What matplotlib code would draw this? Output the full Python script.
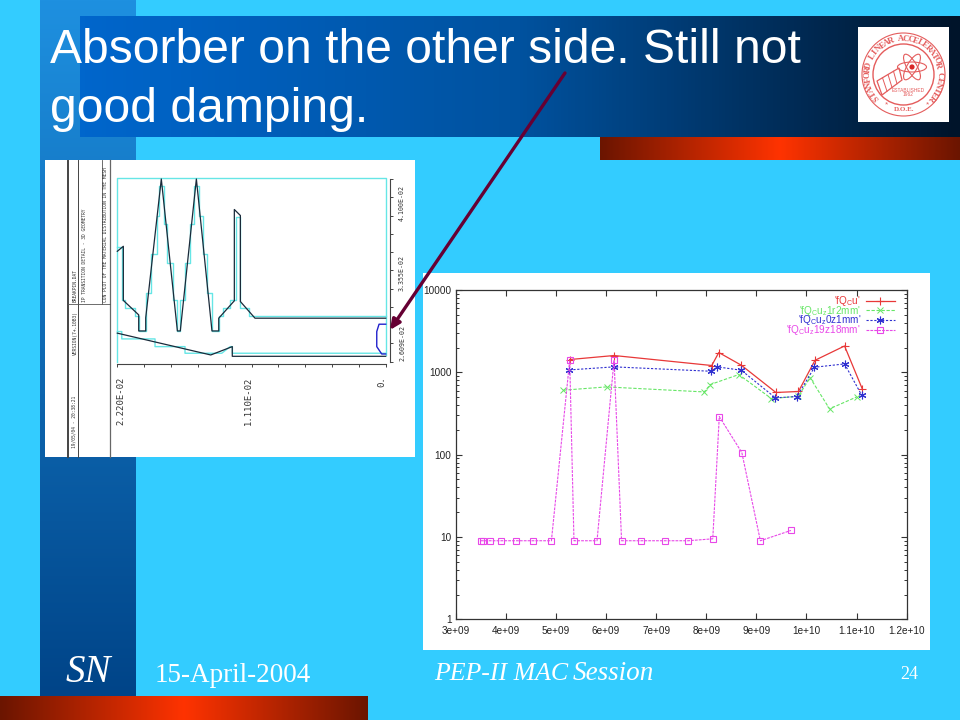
import numpy as np
import matplotlib
matplotlib.use('Agg')
import matplotlib.pyplot as plt
from matplotlib.colors import LinearSegmentedColormap
from matplotlib.patches import Ellipse, Circle, Polygon, Rectangle

plt.rcParams['font.family'] = ['Liberation Sans', 'DejaVu Sans']
plt.rcParams['mathtext.default'] = 'regular'

W, H = 960, 720

# right plot: frequency scan, one list per curve
x_ticks = [3e9, 4e9, 5e9, 6e9, 7e9, 8e9, 9e9, 1e10, 1.1e10, 1.2e10]
x_tick_labels = ['3e+09', '4e+09', '5e+09', '6e+09', '7e+09', '8e+09', '9e+09', '1e+10', '1.1e+10', '1.2e+10']
y_ticks = [1, 10, 100, 1000, 10000]
y_tick_labels = ['1', '10', '100', '1000', '10000']

red_x = [5.275e9, 6.16e9, 8.11e9, 8.25e9, 8.70e9, 9.39e9, 9.84e9, 1.017e10, 1.076e10, 1.111e10]
red_y = [1430, 1600, 1210, 1740, 1220, 569, 585, 1400, 2090, 636]
green_x = [5.15e9, 6.01e9, 7.96e9, 8.08e9, 8.65e9, 9.30e9, 9.84e9, 1.007e10, 1.046e10, 1.10e10]
green_y = [607, 665, 578, 710, 940, 480, 512, 864, 360, 502]
blue_x = [5.27e9, 6.16e9, 8.10e9, 8.22e9, 8.70e9, 9.38e9, 9.81e9, 1.016e10, 1.076e10, 1.110e10]
blue_y = [1070, 1165, 1030, 1165, 1060, 490, 508, 1153, 1265, 530]
mag_x = [3.505e9, 3.55e9, 3.685e9, 3.91e9, 4.21e9, 4.54e9, 4.91e9, 5.275e9, 5.36e9, 5.82e9, 6.16e9,
         6.31e9, 6.70e9, 7.18e9, 7.64e9, 8.13e9, 8.26e9, 8.71e9, 9.08e9, 9.69e9]
mag_y = [9, 9, 9, 9, 9, 9, 9, 1400, 9, 9, 1400, 9, 9, 9, 9, 9.5, 290, 106, 9, 12]

labels = ["'fQ$_C$u'", "'fQ$_C$u$_z$1r2mm'", "'fQ$_C$u$_z$0z1mm'", "'fQ$_C$u$_z$19z18mm'"]

# left plot: geometry outline, units of 1e-2
black_top_x = [2.22, 2.17, 2.17, 2.043, 2.043, 1.985, 1.985, 1.856, 1.723, 1.699, 1.566, 1.437, 1.381,
               1.381, 1.252, 1.252, 1.202, 1.202, 1.081, 0]
black_top_y = [3.51, 3.551, 3.109, 2.991, 2.86, 2.86, 2.967, 4.10, 2.86, 2.86, 4.10, 2.86, 2.86,
               2.964, 3.106, 3.851, 3.802, 3.10, 2.964, 2.964]
black_bot_x = [2.22, 1.447, 1.269, 1.269, 0]
black_bot_y = [2.842, 2.664, 2.732, 2.653, 2.653]
cyan_top_x = [2.219, 2.183, 2.183, 2.156, 2.156, 2.073, 2.073, 2.043, 2.043, 1.985, 1.985, 1.944, 1.944,
              1.894, 1.894, 1.875, 1.875, 1.833, 1.833, 1.809, 1.809, 1.762, 1.762, 1.723, 1.723, 1.698,
              1.698, 1.66, 1.66, 1.618, 1.618, 1.585, 1.585, 1.547, 1.547, 1.514, 1.514, 1.48, 1.48,
              1.439, 1.439, 1.381, 1.381, 1.343, 1.343, 1.287, 1.287, 1.238, 1.238, 1.205, 1.205, 1.13,
              1.13, 0]
cyan_top_y = [3.543, 3.543, 3.109, 3.109, 3.046, 3.046, 2.986, 2.986, 2.86, 2.86, 3.169, 3.169, 3.491,
              3.491, 3.797, 3.797, 4.043, 4.043, 3.729, 3.729, 3.415, 3.415, 3.109, 3.109, 2.86, 2.86,
              3.109, 3.109, 3.415, 3.415, 3.729, 3.729, 4.043, 4.043, 3.797, 3.797, 3.491, 3.491, 3.169,
              3.169, 2.86, 2.86, 2.978, 2.978, 3.046, 3.046, 3.109, 3.109, 3.791, 3.791, 3.046, 3.046,
              2.981, 2.981]
cyan_bot_x = [2.219, 2.183, 2.183, 1.908, 1.908, 1.66, 1.66, 1.356, 1.287, 1.268, 1.268, 0]
cyan_bot_y = [2.855, 2.855, 2.795, 2.795, 2.732, 2.732, 2.678, 2.678, 2.732, 2.732, 2.678, 2.678]
frame_x = [2.22, 2.22, 0, 0]
frame_y = [2.609, 4.105, 4.105, 2.66]
blue_part_x = [0, 0.055, 0.074, 0.074, 0.033, 0]
blue_part_y = [2.915, 2.915, 2.855, 2.732, 2.672, 2.672]
left_x_labels = ['2.220E-02', '1.110E-02', '0.']
left_x_label_pos = [2.22, 1.11, 0]
left_x_label_shift = [4, -3.5, -3.5]
left_y_labels = ['4.100E-02', '3.355E-02', '2.609E-02']


def add_axes_px(left, top, right, bottom, **kw):
    return fig.add_axes([left / W, 1 - bottom / H, (right - left) / W, (bottom - top) / H], **kw)


def gradient(ax, box, c0, c1, c2=None, vertical=False):
    colors = [c0, c1] if c2 is None else [c0, c1, c2]
    cmap = LinearSegmentedColormap.from_list('g', colors)
    g = np.linspace(0, 1, 256).reshape(1, -1)
    if vertical:
        g = g.T
    l, t, r, b = box
    ax.imshow(g, cmap=cmap, extent=[l, r, b, t], aspect='auto', interpolation='bilinear', zorder=1)


fig = plt.figure(figsize=(9.6, 7.2), dpi=100, facecolor='#33CCFF')

# slide background, pixel coordinates
bg = add_axes_px(0, 0, W, H)
bg.set_xlim(0, W)
bg.set_ylim(H, 0)
bg.axis('off')
gradient(bg, (40, 0, 136, 696), '#1E90E0', '#004488', vertical=True)
gradient(bg, (80, 16, 960, 137), '#0066CC', '#00529F', '#00142A')
gradient(bg, (600, 137, 960, 160), '#6B1500', '#FF3300', '#6B1500')
gradient(bg, (0, 696, 368, 720), '#6B1500', '#FF3300', '#6B1500')
bg.set_xlim(0, W)
bg.set_ylim(H, 0)

bg.add_patch(Rectangle((423, 273), 507, 377, fc='white', ec='none', zorder=2))
bg.add_patch(Rectangle((45, 160), 370, 297, fc='white', ec='none', zorder=2))

bg.text(50, 63, 'Absorber on the other side. Still not', color='white', fontsize=34.6, zorder=4)
bg.text(50, 122, 'good damping.', color='white', fontsize=34.6, zorder=4)
serif = ['Liberation Serif', 'DejaVu Serif']
bg.text(66, 682, 'SN', color='white', fontsize=28, style='italic', family=serif, zorder=4)
bg.text(155, 682, '15-April-2004', color='white', fontsize=19.5, family=serif, zorder=4)
bg.text(434, 680, 'PEP-II MAC', color='white', fontsize=18.6, style='italic', family=serif, zorder=4)
bg.text(573, 680, 'Session', color='white', fontsize=19.5, style='italic', family=serif, zorder=4)
bg.text(900, 679, '24', color='white', fontsize=13, family=serif, zorder=4)

# header strip of the left plot
for xp in [66.7, 68.3, 78.3]:
    bg.plot([xp, xp], [160, 457], color='#444444', lw=0.7, zorder=3)
bg.plot([101.7, 101.7], [160, 304], color='#555555', lw=0.6, zorder=3)
bg.plot([110.3, 110.3], [160, 457], color='#666666', lw=0.9, zorder=3)
bg.plot([68.3, 110.3], [304, 304], color='#555555', lw=0.6, zorder=3)
small = dict(family='DejaVu Sans Mono', fontsize=3.3, rotation=90, color='#333333', ha='center', va='bottom', zorder=4)
bg.text(74, 448, '19/05/04 - 20:38:21', **small)
bg.text(75, 355, 'VERSION(7+.10B3)', **small)
bg.text(75, 302, 'BREAKPIN.DAT', **small)
bg.text(84.5, 302, 'IP TRANSITION DETAIL - 3D GEOMETRY', **small)
bg.text(105.5, 302, 'CON PLOT OF THE MATERIAL DISTRIBUTION IN THE MESH', **small)

# SLAC seal
seal = '#E45C5C'
cx, cy = 903.5, 74.5
bg.add_patch(Rectangle((858, 27), 91, 95, fc='white', ec='none', zorder=2))
bg.add_patch(Circle((cx, cy), 41.5, fc='none', ec=seal, lw=0.8, zorder=3))
bg.add_patch(Circle((cx, cy), 30.5, fc='none', ec=seal, lw=1.0, zorder=3))
seal_text = 'STANFORD LINEAR ACCELERATOR CENTER'
for i, ch in enumerate(seal_text):
    ang = -130 + 260 * i / (len(seal_text) - 1)
    a = np.radians(ang)
    bg.text(cx + 35.8 * np.sin(a), cy - 35.8 * np.cos(a), ch, color=seal, fontsize=6.2, family=serif,
            rotation=-ang, ha='center', va='center', weight='bold', zorder=4)
bg.text(cx + 1, cy + 35, 'D.O.E.', color=seal, fontsize=5, ha='center', va='center', family=serif, weight='bold', zorder=4)
bg.text(886.7, 105, '*', color=seal, fontsize=6, ha='center', va='center', zorder=4)
bg.text(928, 105, '*', color=seal, fontsize=6, ha='center', va='center', zorder=4)
bg.text(908, 90, 'ESTABLISHED', color=seal, fontsize=3.5, ha='center', va='center', zorder=4)
bg.text(908, 95, '1962', color=seal, fontsize=3.5, ha='center', va='center', zorder=4)
for tilt in [0, 60, 120]:
    bg.add_patch(Ellipse((912, 67), 29, 10, angle=tilt, fc='none', ec=seal, lw=0.8, zorder=3))
bg.add_patch(Circle((912, 67), 2.6, fc='#D82828', ec='none', zorder=3))
bg.add_patch(Polygon([[877, 81], [899, 68], [902, 80], [882, 95]], fc='none', ec=seal, lw=0.9, zorder=3))
for k in [0.25, 0.5, 0.75]:
    bg.plot([877 + 22 * k, 882 + 20 * k], [81 - 13 * k, 95 - 15 * k], color=seal, lw=0.7, zorder=3)

# left plot
ax1 = add_axes_px(117.3, 179, 385.7, 361.7)
ax1.patch.set_alpha(0)
ax1.set_xlim(2.22, 0)
ax1.set_ylim(2.609, 4.10)
ax1.plot(frame_x, frame_y, color='#66E6E6', lw=1.0, clip_on=False)
ax1.plot(cyan_top_x, cyan_top_y, color='#66E6E6', lw=1.0, clip_on=False)
ax1.plot(cyan_bot_x, cyan_bot_y, color='#66E6E6', lw=1.0, clip_on=False)
ax1.plot(black_top_x, black_top_y, color='#1A2A3A', lw=0.9, clip_on=False)
ax1.plot(black_bot_x, black_bot_y, color='#1A2A3A', lw=0.9, clip_on=False)
ax1.plot(blue_part_x, blue_part_y, color='#2222CC', lw=1.0, clip_on=False)
for name in ['top', 'left']:
    ax1.spines[name].set_visible(False)
ax1.spines['bottom'].set_position(('outward', 2))
ax1.spines['right'].set_position(('outward', 3))
for name in ['bottom', 'right']:
    ax1.spines[name].set_color('#444444')
    ax1.spines[name].set_linewidth(0.8)
ax1.yaxis.tick_right()
ax1.set_xticks(np.linspace(0, 2.22, 11))
ax1.set_yticks(np.linspace(2.609, 4.10, 11))
ax1.set_xticklabels([])
ax1.set_yticklabels([])
ax1.tick_params(length=2.5, width=0.7, color='#444444')
for pos, txt, dx in zip(left_x_label_pos, left_x_labels, left_x_label_shift):
    ax1.annotate(txt, xy=(pos, 0), xycoords=ax1.get_xaxis_transform(), xytext=(dx, -15),
                 textcoords='offset pixels', rotation=90, ha='center', va='top', family='DejaVu Sans Mono',
                 fontsize=6.4, color='#333333')
for yp, txt in zip([203, 273, 343], left_y_labels):
    bg.text(402, yp, txt, rotation=90, ha='center', va='center', family='DejaVu Sans Mono',
            fontsize=4.8, color='#333333', zorder=4)

# right plot
ax2 = add_axes_px(455.7, 290, 906.7, 619.3)
ax2.patch.set_alpha(0)
ax2.plot(red_x, red_y, color='#E83838', lw=0.9, marker='+', ms=6, mew=0.8, label=labels[0])
ax2.plot(green_x, green_y, color='#66E666', lw=0.8, ls=(0, (3, 1.5)), marker='x', ms=4.5, mew=0.7, label=labels[1])
ax2.plot(blue_x, blue_y, color='#3030D0', lw=0.8, ls=(0, (2, 1.5)), marker=(6, 2, 0), ms=5.5, mew=0.8, label=labels[2])
ax2.plot(mag_x, mag_y, color='#E848E8', lw=0.8, ls=(0, (2.5, 1)), marker='s', ms=5, mew=0.8, mfc='none', label=labels[3])
ax2.set_yscale('log')
ax2.set_xlim(3e9, 1.2e10)
ax2.set_ylim(1, 10000)
ax2.set_xticks(x_ticks)
ax2.set_xticklabels(x_tick_labels)
ax2.set_yticks(y_ticks)
ax2.set_yticklabels(y_tick_labels)
ax2.tick_params(which='both', direction='in', top=True, right=True, color='#333333', labelsize=7.2,
                labelcolor='#222222', pad=3)
ax2.tick_params(axis='x', which='major', pad=4.5)
ax2.tick_params(which='major', length=4, width=0.8)
ax2.tick_params(which='minor', length=2.2, width=0.7)
ax2.minorticks_on()
ax2.xaxis.set_tick_params(which='minor', bottom=False, top=False)
for s in ax2.spines.values():
    s.set_color('#333333')
    s.set_linewidth(0.9)
ax2.legend(loc='upper right', bbox_to_anchor=(895 / W, 1 - 294 / H), bbox_transform=fig.transFigure,
           frameon=False, fontsize=7.2, labelcolor='linecolor', markerfirst=False, borderpad=0, borderaxespad=0,
           handlelength=2.95, handletextpad=0.45, labelspacing=-0.43)

# arrow on top of everything
top = add_axes_px(0, 0, W, H)
top.patch.set_alpha(0)
top.set_xlim(0, W)
top.set_ylim(H, 0)
top.axis('off')
top.annotate('', xy=(390, 330), xytext=(565, 73),
             arrowprops=dict(arrowstyle='-|>,head_length=0.6,head_width=0.28', color='#660033', lw=2.4,
                             shrinkA=0, shrinkB=0))

fig.savefig('out.png', dpi=100, facecolor=fig.get_facecolor())
